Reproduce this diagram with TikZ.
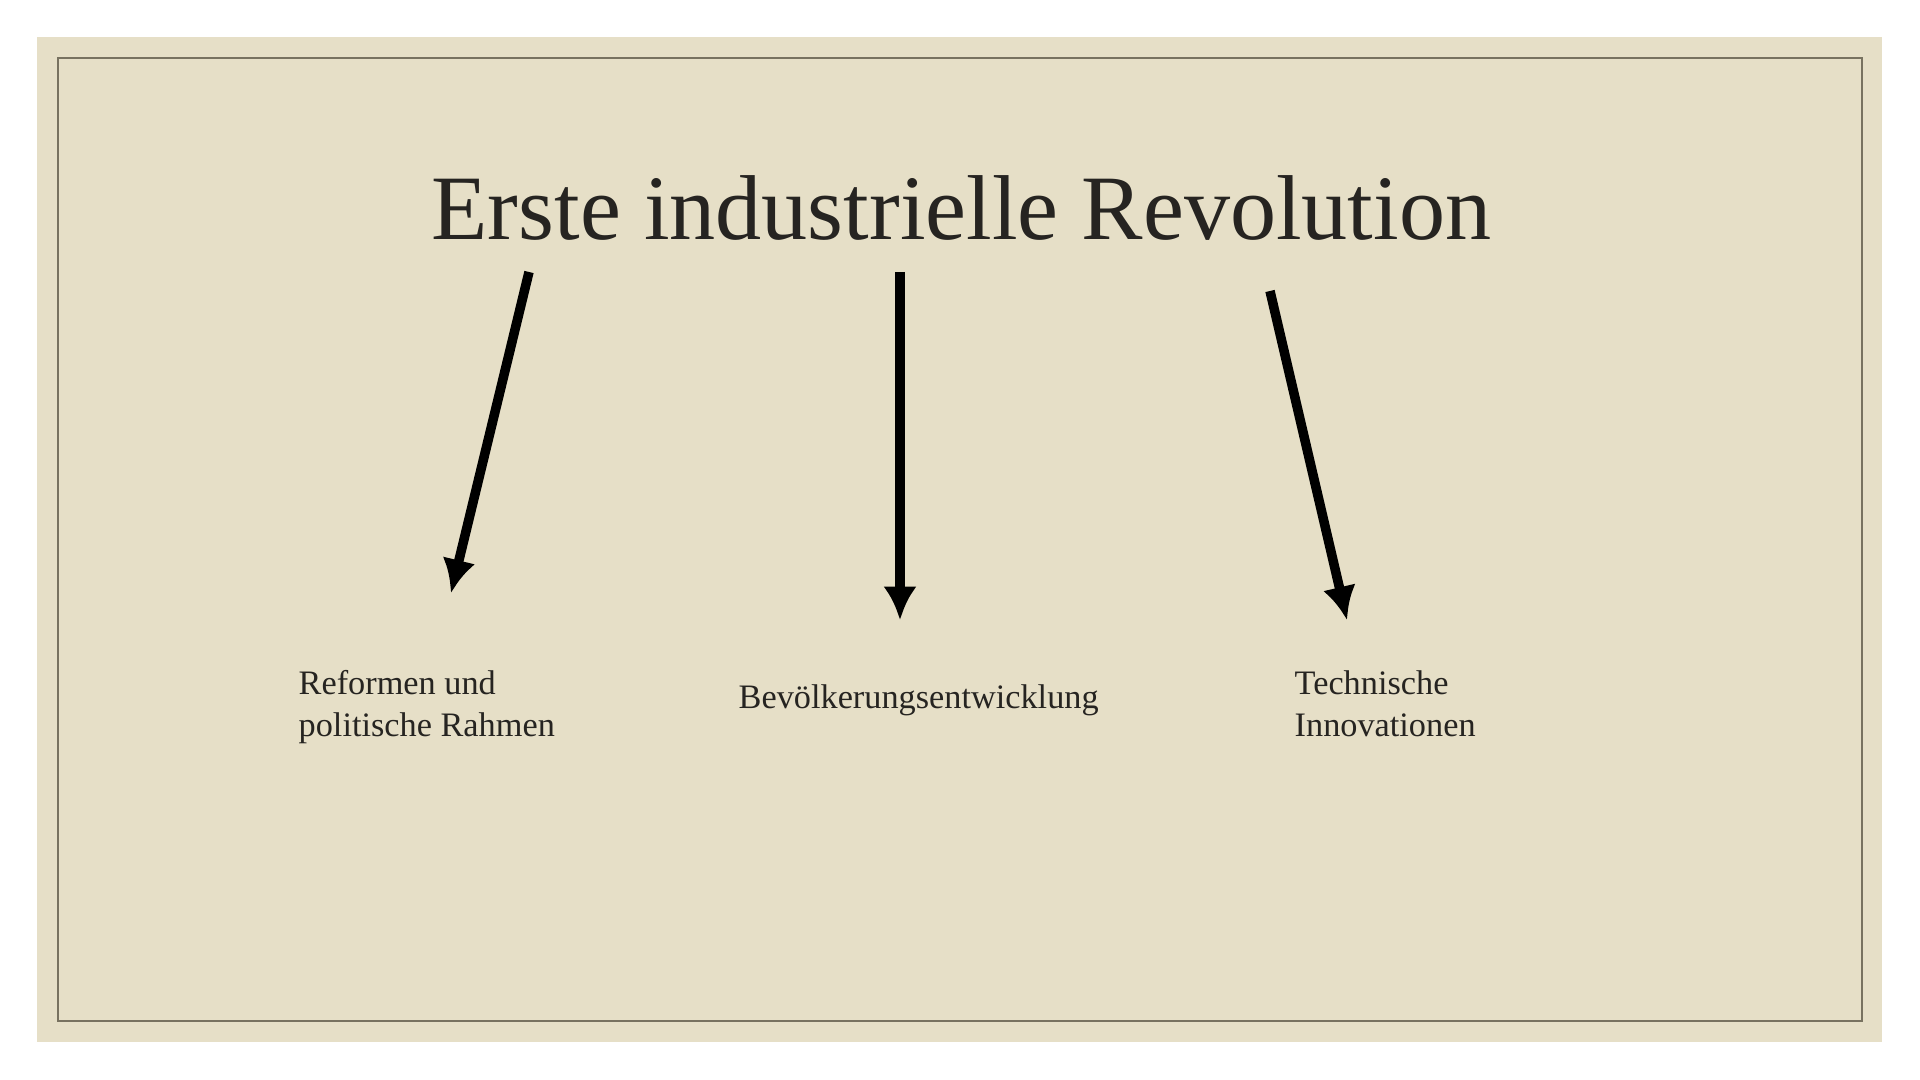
\documentclass[tikz,border=0pt]{standalone}
\usepackage{fontspec}
\setmainfont{Liberation Serif}
\usetikzlibrary{arrows.meta}
\definecolor{bg}{RGB}{230,223,199}
\definecolor{framec}{RGB}{120,114,96}
\definecolor{ink}{RGB}{38,36,33}
\begin{document}
\begin{tikzpicture}[x=0.01cm,y=-0.01cm,
  lbl/.style={anchor=base west, align=left, font=\fontsize{9.75}{12.2}\selectfont, text=ink, inner sep=0pt},
  arr/.style={line width=2.7pt, black, -{Latex[length=9.5pt,width=9.5pt]}}]
\useasboundingbox (0,0) rectangle (1920,1080);
\fill[white] (0,0) rectangle (1920,1080);
\fill[bg] (37,37) rectangle (1882,1042);
\draw[framec, line width=0.4pt] (58,58) rectangle (1862,1021);
\node[anchor=base west, inner sep=0pt, text=ink, font=\fontsize{26.2}{30}\selectfont] (title) at (431,240) {Erste industrielle Revolution};
\node[lbl] (reform) at (298,737) {Reformen und\\politische Rahmen};
\node[lbl] (bevoelk) at (738,709) {Bevölkerungsentwicklung};
\node[lbl] (tech) at (1294,737) {Technische\\Innovationen};
\coordinate (s1) at (529,272);
\coordinate (e1) at (451,593);
\coordinate (s2) at (900,272);
\coordinate (e2) at (900,620);
\coordinate (s3) at (1270,291);
\coordinate (e3) at (1347,620);
\draw[arr] (s1) -- (e1);
\draw[arr] (s2) -- (e2);
\draw[arr] (s3) -- (e3);
\end{tikzpicture}
\end{document}
